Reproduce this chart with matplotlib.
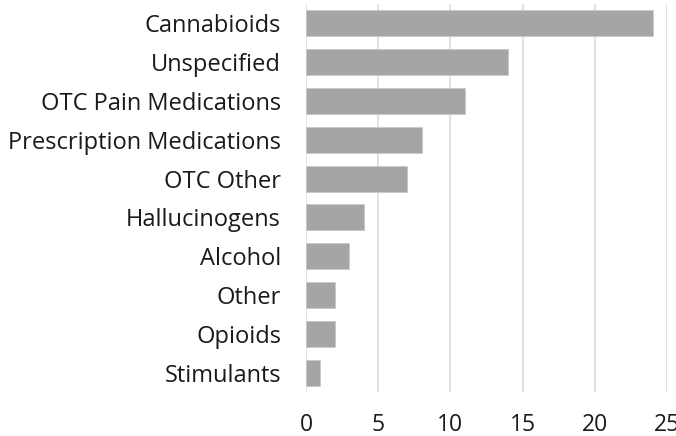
import numpy as np
import matplotlib
matplotlib.use("Agg")
import matplotlib.pyplot as plt

plt.rcParams["font.family"] = ["Open Sans", "DejaVu Sans"]

# data (top to bottom)
categories = [
    "Cannabioids",
    "Unspecified",
    "OTC Pain Medications",
    "Prescription Medications",
    "OTC Other",
    "Hallucinogens",
    "Alcohol",
    "Other",
    "Opioids",
    "Stimulants",
]
counts = [24, 14, 11, 8, 7, 4, 3, 2, 2, 1]
x_ticks = [0, 5, 10, 15, 20, 25]

BAR_COLOR = "#A5A5A5"
GRID_COLOR = "#D9D9D9"
TEXT_COLOR = "#1A1A1A"

fig = plt.figure(figsize=(6.76, 4.36), dpi=100)
ax = fig.add_axes([306 / 676, 1 - 392 / 436, (667 - 306) / 676, (392 - 4) / 436])

y = np.arange(len(categories))
ax.barh(y, counts, height=0.67, color=BAR_COLOR, edgecolor="#C8C8C8", linewidth=0.6, zorder=3)

ax.set_xlim(0, 25)
ax.set_ylim(len(categories) - 0.5, -0.5)
ax.set_xticks(x_ticks)
ax.set_xticklabels([str(t) for t in x_ticks])
ax.set_yticks(y)
ax.set_yticklabels(categories)

ax.grid(axis="x", color=GRID_COLOR, linewidth=1.1, zorder=0)
ax.set_axisbelow(True)
for s in ax.spines.values():
    s.set_visible(False)

ax.tick_params(axis="y", length=0, labelsize=17, colors=TEXT_COLOR, pad=18)
ax.tick_params(axis="x", length=0, labelsize=16.5, colors=TEXT_COLOR, pad=15)

fig.savefig("out.png", dpi=100)
